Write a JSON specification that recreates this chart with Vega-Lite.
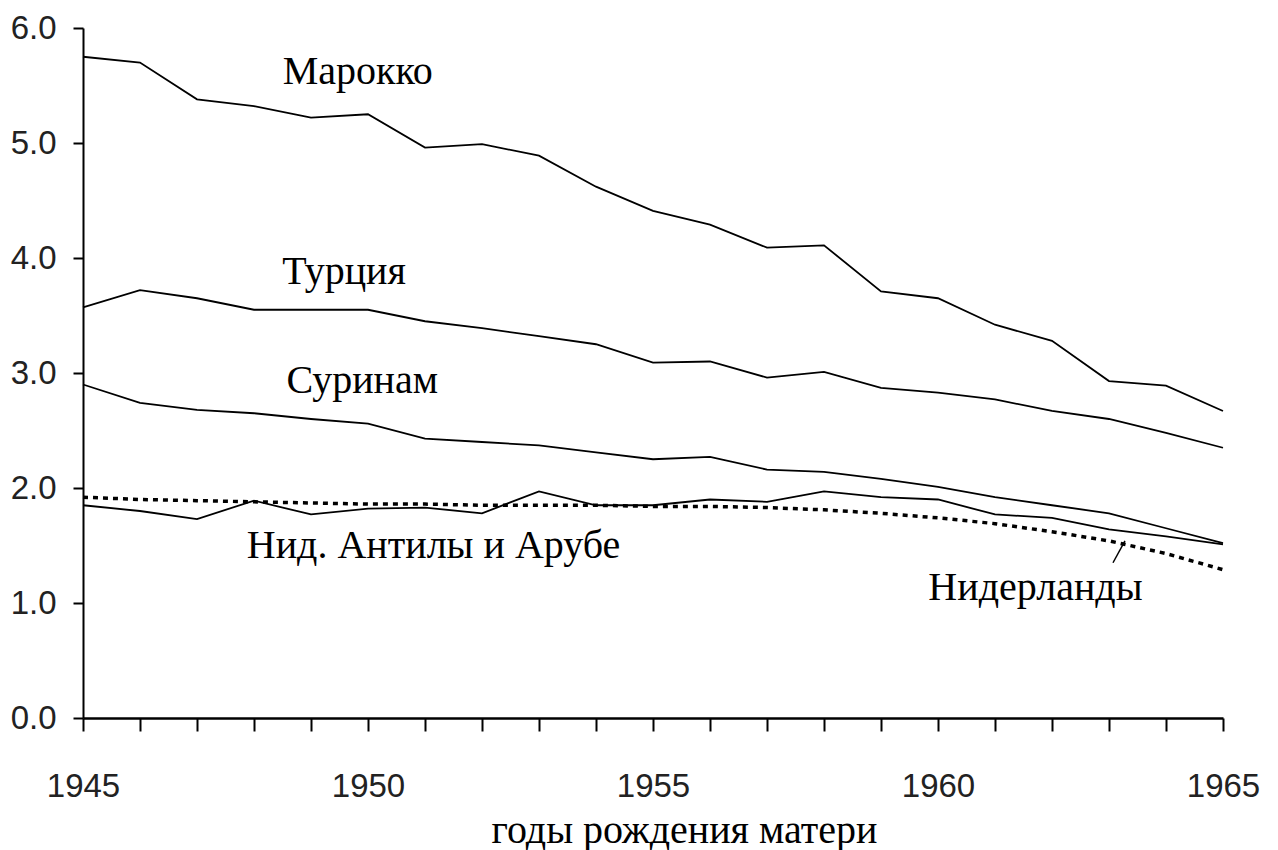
{
  "$schema": "https://vega.github.io/schema/vega-lite/v6.json",
  "width": 1140,
  "height": 690,
  "autosize": {"type": "none"},
  "padding": {"left": 83, "top": 28, "right": 55, "bottom": 132},
  "background": "white",
  "config": {"view": {"stroke": null}},
  "datasets": {
    "series": [
      {"year":1945,"series":"Марокко","value":5.75},{"year":1946,"series":"Марокко","value":5.70},{"year":1947,"series":"Марокко","value":5.38},{"year":1948,"series":"Марокко","value":5.32},{"year":1949,"series":"Марокко","value":5.22},{"year":1950,"series":"Марокко","value":5.25},{"year":1951,"series":"Марокко","value":4.96},{"year":1952,"series":"Марокко","value":4.99},{"year":1953,"series":"Марокко","value":4.89},{"year":1954,"series":"Марокко","value":4.62},{"year":1955,"series":"Марокко","value":4.41},{"year":1956,"series":"Марокко","value":4.29},{"year":1957,"series":"Марокко","value":4.09},{"year":1958,"series":"Марокко","value":4.11},{"year":1959,"series":"Марокко","value":3.71},{"year":1960,"series":"Марокко","value":3.65},{"year":1961,"series":"Марокко","value":3.42},{"year":1962,"series":"Марокко","value":3.28},{"year":1963,"series":"Марокко","value":2.93},{"year":1964,"series":"Марокко","value":2.89},{"year":1965,"series":"Марокко","value":2.67},
      {"year":1945,"series":"Турция","value":3.57},{"year":1946,"series":"Турция","value":3.72},{"year":1947,"series":"Турция","value":3.65},{"year":1948,"series":"Турция","value":3.55},{"year":1949,"series":"Турция","value":3.55},{"year":1950,"series":"Турция","value":3.55},{"year":1951,"series":"Турция","value":3.45},{"year":1952,"series":"Турция","value":3.39},{"year":1953,"series":"Турция","value":3.32},{"year":1954,"series":"Турция","value":3.25},{"year":1955,"series":"Турция","value":3.09},{"year":1956,"series":"Турция","value":3.10},{"year":1957,"series":"Турция","value":2.96},{"year":1958,"series":"Турция","value":3.01},{"year":1959,"series":"Турция","value":2.87},{"year":1960,"series":"Турция","value":2.83},{"year":1961,"series":"Турция","value":2.77},{"year":1962,"series":"Турция","value":2.67},{"year":1963,"series":"Турция","value":2.60},{"year":1964,"series":"Турция","value":2.48},{"year":1965,"series":"Турция","value":2.35},
      {"year":1945,"series":"Суринам","value":2.90},{"year":1946,"series":"Суринам","value":2.74},{"year":1947,"series":"Суринам","value":2.68},{"year":1948,"series":"Суринам","value":2.65},{"year":1949,"series":"Суринам","value":2.60},{"year":1950,"series":"Суринам","value":2.56},{"year":1951,"series":"Суринам","value":2.43},{"year":1952,"series":"Суринам","value":2.40},{"year":1953,"series":"Суринам","value":2.37},{"year":1954,"series":"Суринам","value":2.31},{"year":1955,"series":"Суринам","value":2.25},{"year":1956,"series":"Суринам","value":2.27},{"year":1957,"series":"Суринам","value":2.16},{"year":1958,"series":"Суринам","value":2.14},{"year":1959,"series":"Суринам","value":2.08},{"year":1960,"series":"Суринам","value":2.01},{"year":1961,"series":"Суринам","value":1.92},{"year":1962,"series":"Суринам","value":1.85},{"year":1963,"series":"Суринам","value":1.78},{"year":1964,"series":"Суринам","value":1.65},{"year":1965,"series":"Суринам","value":1.52},
      {"year":1945,"series":"Антилы","value":1.85},{"year":1946,"series":"Антилы","value":1.80},{"year":1947,"series":"Антилы","value":1.73},{"year":1948,"series":"Антилы","value":1.89},{"year":1949,"series":"Антилы","value":1.77},{"year":1950,"series":"Антилы","value":1.82},{"year":1951,"series":"Антилы","value":1.83},{"year":1952,"series":"Антилы","value":1.78},{"year":1953,"series":"Антилы","value":1.97},{"year":1954,"series":"Антилы","value":1.85},{"year":1955,"series":"Антилы","value":1.85},{"year":1956,"series":"Антилы","value":1.90},{"year":1957,"series":"Антилы","value":1.88},{"year":1958,"series":"Антилы","value":1.97},{"year":1959,"series":"Антилы","value":1.92},{"year":1960,"series":"Антилы","value":1.90},{"year":1961,"series":"Антилы","value":1.77},{"year":1962,"series":"Антилы","value":1.74},{"year":1963,"series":"Антилы","value":1.64},{"year":1964,"series":"Антилы","value":1.58},{"year":1965,"series":"Антилы","value":1.51}
    ],
    "nl": [
      {"year":1945,"value":1.92},{"year":1946,"value":1.90},{"year":1947,"value":1.89},{"year":1948,"value":1.88},{"year":1949,"value":1.87},{"year":1950,"value":1.86},{"year":1951,"value":1.86},{"year":1952,"value":1.85},{"year":1953,"value":1.85},{"year":1954,"value":1.85},{"year":1955,"value":1.84},{"year":1956,"value":1.84},{"year":1957,"value":1.83},{"year":1958,"value":1.81},{"year":1959,"value":1.78},{"year":1960,"value":1.74},{"year":1961,"value":1.69},{"year":1962,"value":1.62},{"year":1963,"value":1.54},{"year":1964,"value":1.43},{"year":1965,"value":1.29}
    ],
    "labels": [
      {"year":1949.82,"value":5.51,"text":"Марокко"},
      {"year":1949.58,"value":3.77,"text":"Турция"},
      {"year":1949.9,"value":2.83,"text":"Суринам"},
      {"year":1951.15,"value":1.39,"text":"Нид. Антилы и Арубе"},
      {"year":1961.71,"value":1.03,"text":"Нидерланды"}
    ],
    "leader": [
      {"x1":1963.07,"y1":1.35,"x2":1963.28,"y2":1.54}
    ]
  },
  "layer": [
    {
      "data": {"name": "series"},
      "mark": {"type": "line", "color": "black", "strokeWidth": 1.8},
      "encoding": {
        "x": {
          "field": "year", "type": "quantitative",
          "scale": {"domain": [1945, 1965], "nice": false, "zero": false},
          "axis": {
            "values": [1945,1946,1947,1948,1949,1950,1951,1952,1953,1954,1955,1956,1957,1958,1959,1960,1961,1962,1963,1964,1965],
            "format": "d",
            "labelExpr": "datum.value % 5 === 0 ? datum.label : ''",
            "grid": false,
            "domainColor": "black", "domainWidth": 2.5,
            "tickColor": "black", "tickWidth": 2, "tickSize": 13,
            "labelFont": "Liberation Sans, Arial",
            "labelFontSize": 33, "labelColor": "#222",
            "labelBaseline": "top", "labelPadding": 39, "labelFlush": false, "labelOverlap": false,
            "title": "годы рождения матери",
            "titleFont": "Liberation Serif, Times New Roman, serif",
            "titleFontSize": 40, "titleFontWeight": "normal", "titleColor": "black",
            "titleBaseline": "alphabetic", "titleAlign": "center",
            "titleX": 601, "titleY": 124
          }
        },
        "y": {
          "field": "value", "type": "quantitative",
          "scale": {"domain": [0, 6], "nice": false},
          "axis": {
            "values": [0,1,2,3,4,5,6],
            "format": ".1f",
            "grid": false,
            "domainColor": "black", "domainWidth": 2,
            "tickColor": "black", "tickWidth": 2, "tickSize": 10,
            "labelFont": "Liberation Sans, Arial",
            "labelFontSize": 33, "labelColor": "#222",
            "labelPadding": 17,
            "title": null
          }
        },
        "detail": {"field": "series", "type": "nominal"}
      }
    },
    {
      "data": {"name": "nl"},
      "mark": {"type": "line", "color": "black", "strokeWidth": 3.5, "strokeDash": [5, 5]},
      "encoding": {
        "x": {"field": "year", "type": "quantitative"},
        "y": {"field": "value", "type": "quantitative"}
      }
    },
    {
      "data": {"name": "leader"},
      "mark": {"type": "rule", "color": "black", "strokeWidth": 1.5},
      "encoding": {
        "x": {"field": "x1", "type": "quantitative"},
        "y": {"field": "y1", "type": "quantitative"},
        "x2": {"field": "x2"},
        "y2": {"field": "y2"}
      }
    },
    {
      "data": {"name": "labels"},
      "mark": {"type": "text", "font": "Liberation Serif, Times New Roman, serif", "fontSize": 40, "color": "black", "align": "center", "baseline": "alphabetic"},
      "encoding": {
        "x": {"field": "year", "type": "quantitative"},
        "y": {"field": "value", "type": "quantitative"},
        "text": {"field": "text"}
      }
    }
  ]
}
